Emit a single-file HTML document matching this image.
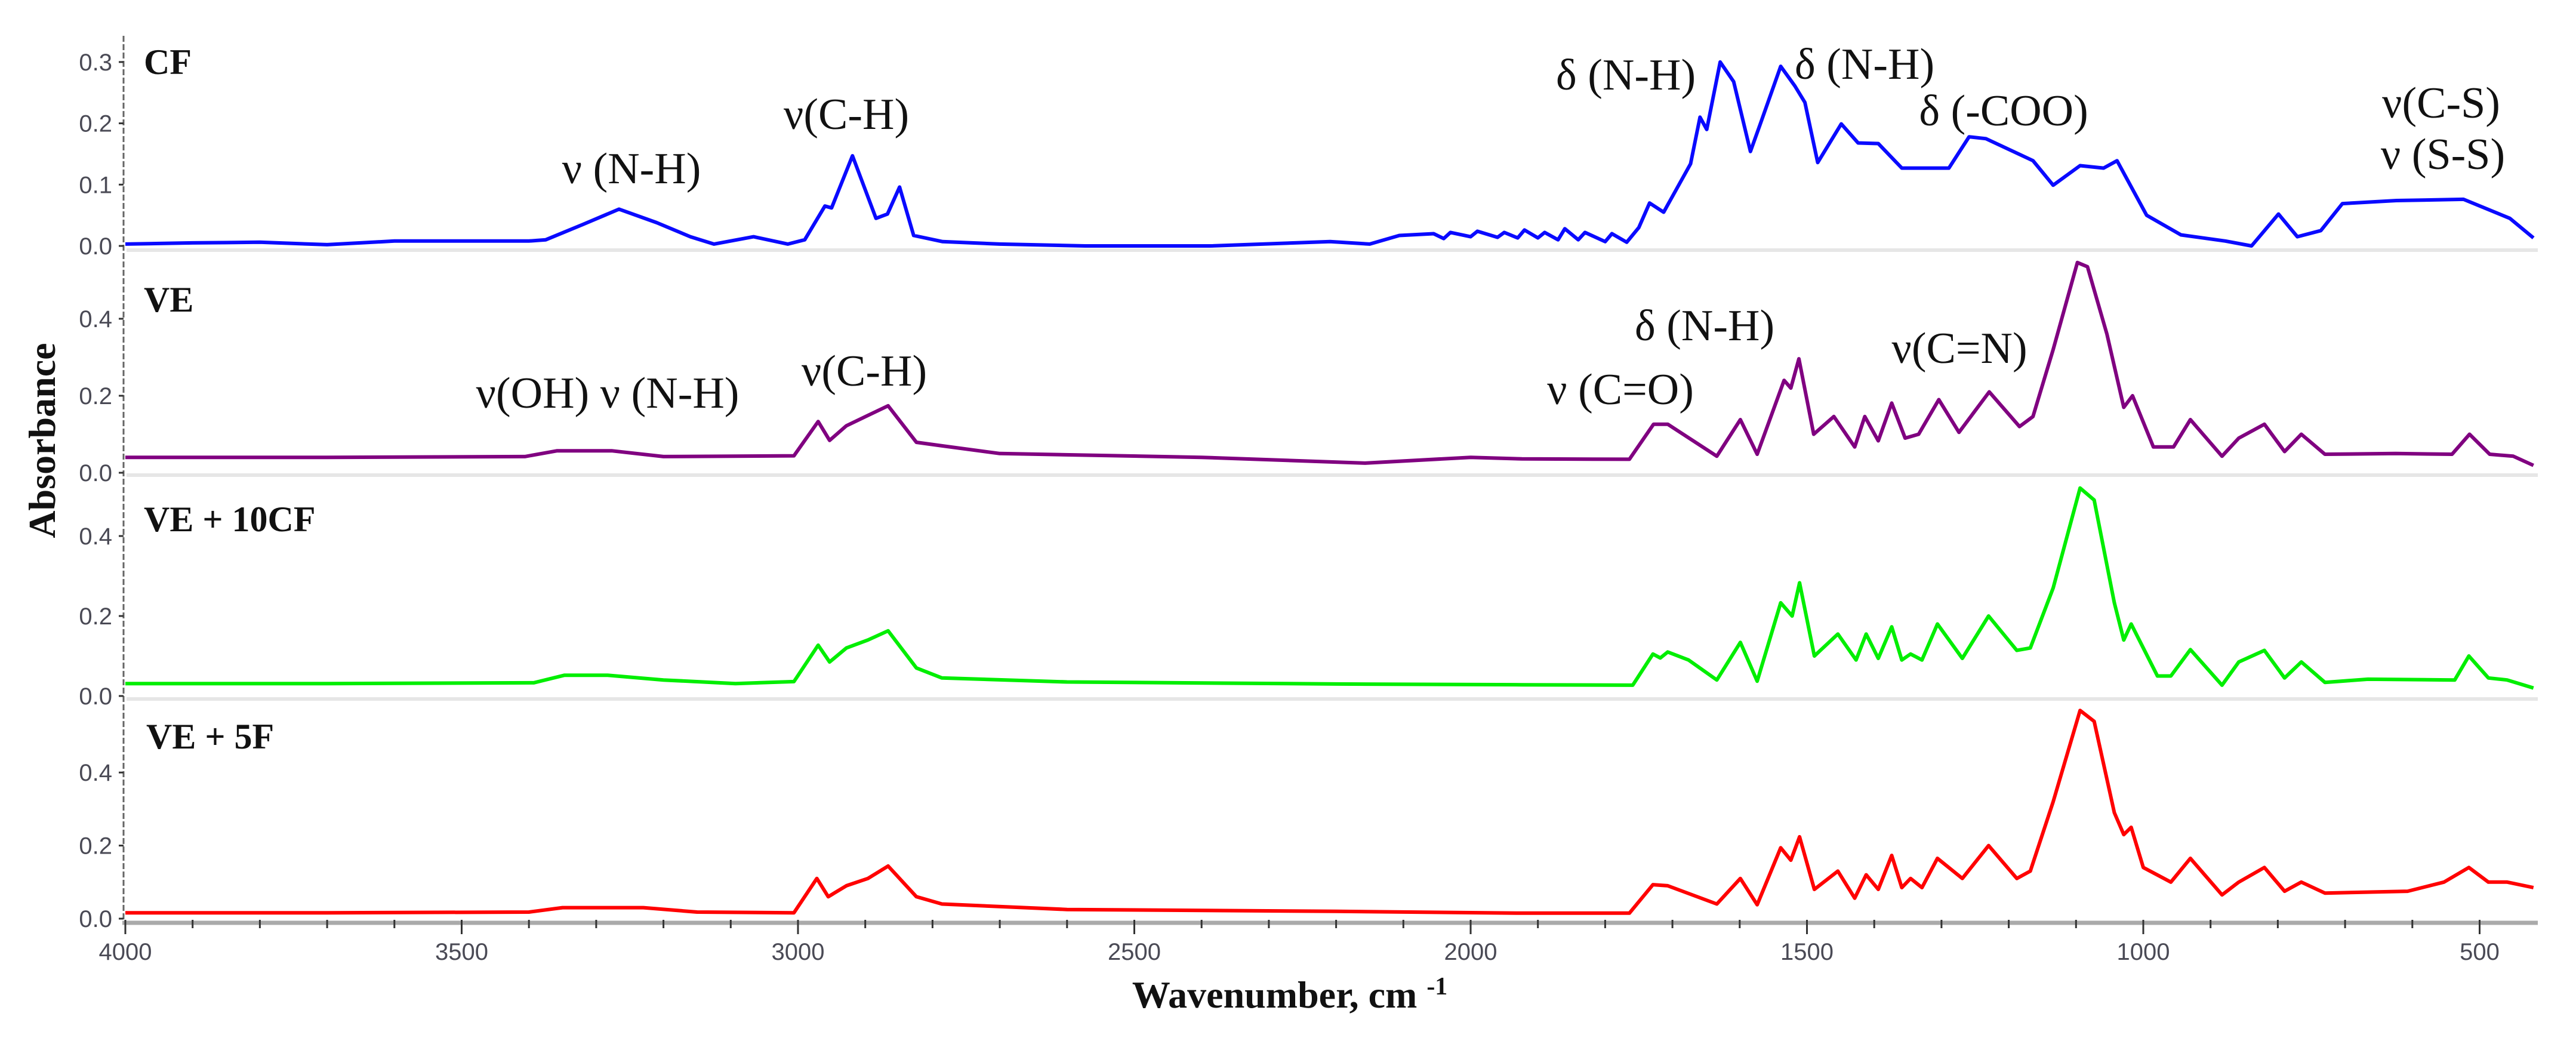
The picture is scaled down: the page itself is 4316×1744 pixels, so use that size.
<!DOCTYPE html>
<html><head><meta charset="utf-8"><title>FTIR spectra</title>
<style>
html,body{margin:0;padding:0;background:#fff;}
svg{display:block;}
.tick{font-family:"Liberation Sans Narrow","Liberation Sans",sans-serif;font-size:40px;fill:#4a4a55;}
.ann{font-family:"Liberation Serif","DejaVu Serif",serif;font-size:74px;fill:#111;}
.plab{font-family:"Liberation Serif",serif;font-weight:bold;font-size:60px;fill:#111;}
.atitle{font-family:"Liberation Serif",serif;font-weight:bold;font-size:64px;fill:#111;}
</style></head>
<body>
<svg id="chart" width="4316" height="1744" viewBox="0 0 4316 1744">
<g id="grid"></g><g id="series"></g><g id="axes"></g><g id="labels"></g>
</svg>
<script>
// ---- data ----
const xTicksMajor = [4000, 3500, 3000, 2500, 2000, 1500, 1000, 500];
const xTickLabels = ["4000", "3500", "3000", "2500", "2000", "1500", "1000", "500"];
const panelNames = ["CF", "VE", "VE + 10CF", "VE + 5F"];
const panelTicksCF = [0.0, 0.1, 0.2, 0.3];
const panelTicksOther = [0.0, 0.2, 0.4];

const cfW = [4000,3900,3800,3700,3600,3500,3400,3375,3320,3266,3210,3160,3125,3066,3015,2990,2960,2950,2919,2884,2867,2849,2828,2785,2700,2573,2387,2209,2150,2106,2055,2040,2030,2000,1990,1960,1950,1930,1920,1900,1890,1870,1860,1840,1830,1800,1790,1768,1750,1734,1713,1673,1659,1649,1629,1609,1584,1569,1539,1518,1503,1484,1449,1424,1394,1359,1289,1259,1234,1164,1134,1094,1059,1039,995,944,878,839,799,771,736,704,624,524,455,420];
const cfA  = [0.003,0.005,0.006,0.002,0.008,0.008,0.008,0.01,0.035,0.06,0.038,0.015,0.003,0.015,0.003,0.01,0.065,0.062,0.147,0.045,0.052,0.096,0.017,0.007,0.003,0.0,0.0,0.007,0.003,0.017,0.02,0.012,0.022,0.015,0.024,0.014,0.022,0.013,0.026,0.013,0.022,0.01,0.028,0.01,0.022,0.007,0.02,0.006,0.03,0.07,0.055,0.134,0.21,0.19,0.30,0.268,0.154,0.2,0.293,0.261,0.234,0.136,0.199,0.168,0.167,0.127,0.127,0.178,0.175,0.139,0.099,0.131,0.127,0.139,0.05,0.018,0.008,0.0,0.052,0.015,0.025,0.069,0.074,0.076,0.045,0.013];

const veW = [4000,3700,3406,3358,3277,3200,3006,2970,2953,2928,2896,2866,2824,2786,2700,2400,2157,2000,1924,1764,1728,1707,1634,1599,1574,1534,1524,1512,1490,1460,1429,1414,1394,1374,1354,1334,1304,1274,1229,1184,1164,1134,1098,1083,1054,1029,1016,985,955,930,883,858,820,790,765,730,625,541,515,485,450,420];
const veA  = [0.04,0.04,0.042,0.057,0.057,0.042,0.044,0.133,0.084,0.122,0.149,0.174,0.079,0.07,0.05,0.04,0.025,0.04,0.036,0.035,0.126,0.126,0.043,0.138,0.048,0.24,0.22,0.296,0.1,0.146,0.067,0.146,0.083,0.181,0.09,0.1,0.19,0.105,0.21,0.12,0.146,0.32,0.546,0.535,0.36,0.17,0.2,0.067,0.067,0.138,0.043,0.09,0.126,0.055,0.1,0.048,0.05,0.048,0.1,0.048,0.043,0.019];

const cfvW = [4000,3700,3393,3347,3283,3200,3093,3006,2970,2953,2928,2896,2866,2824,2786,2600,2200,1924,1759,1729,1718,1707,1676,1634,1599,1574,1539,1522,1511,1489,1454,1427,1412,1394,1374,1359,1346,1329,1306,1269,1230,1188,1168,1134,1094,1073,1043,1029,1018,979,959,930,883,858,820,790,765,730,666,537,516,487,459,420];
const cfvA = [0.031,0.031,0.033,0.052,0.052,0.04,0.031,0.036,0.127,0.085,0.12,0.14,0.163,0.07,0.045,0.035,0.03,0.028,0.027,0.105,0.095,0.11,0.09,0.04,0.134,0.037,0.233,0.2,0.283,0.1,0.155,0.09,0.155,0.094,0.173,0.09,0.105,0.09,0.18,0.094,0.2,0.114,0.12,0.27,0.52,0.49,0.233,0.14,0.18,0.05,0.05,0.116,0.027,0.085,0.114,0.045,0.085,0.034,0.042,0.04,0.1,0.045,0.04,0.02];

const fW = [4000,3700,3400,3350,3230,3150,3006,2972,2955,2928,2896,2866,2824,2786,2600,2200,1924,1764,1729,1707,1634,1599,1574,1539,1524,1511,1489,1454,1429,1412,1394,1374,1359,1346,1329,1306,1269,1230,1188,1168,1134,1094,1073,1043,1029,1018,1000,959,930,883,858,820,790,765,730,607,553,516,487,459,420];
const fA  = [0.016,0.016,0.018,0.03,0.03,0.018,0.016,0.11,0.06,0.09,0.11,0.144,0.06,0.04,0.025,0.02,0.015,0.015,0.093,0.09,0.04,0.11,0.038,0.194,0.16,0.224,0.08,0.13,0.056,0.12,0.08,0.173,0.085,0.11,0.085,0.165,0.11,0.2,0.11,0.13,0.32,0.57,0.54,0.29,0.23,0.25,0.14,0.1,0.165,0.065,0.1,0.14,0.075,0.1,0.07,0.075,0.1,0.14,0.1,0.1,0.085];

// ---- layout ----
const NS = "http://www.w3.org/2000/svg";
function mk(tag, attrs, parent){ const e=document.createElementNS(NS,tag); for(const k in attrs) e.setAttribute(k,attrs[k]); parent.appendChild(e); return e; }
function xScale(w){ return 210 + (4000 - w) * 1.127; }
const panels = [
  {y0:412, k:1027, ticks:panelTicksCF, W:cfW, A:cfA, color:"#0a0aff", lab:[241,124], name:"cf"},
  {y0:792, k:645, ticks:panelTicksOther, W:veW, A:veA, color:"#800080", lab:[241,522], name:"ve"},
  {y0:1166, k:670, ticks:panelTicksOther, W:cfvW, A:cfvA, color:"#00ee00", lab:[241,890], name:"ve-10cf"},
  {y0:1539, k:612, ticks:panelTicksOther, W:fW, A:fA, color:"#ff0000", lab:[245,1254], name:"ve-5f"}
];
function yScale(p, a){ return p.y0 - a * p.k; }

const grid=document.getElementById('grid'), ser=document.getElementById('series'), axes=document.getElementById('axes'), labs=document.getElementById('labels');

[419, 796, 1171].forEach(function(y){
  const l = mk('line',{x1:212,x2:4252,y1:y,y2:y,stroke:'#e6e6e6','stroke-width':6},grid);
  
  
});

const ya = mk('line',{x1:207,x2:207,y1:60,y2:1545,stroke:'#666','stroke-width':3,'stroke-dasharray':'10 4'},axes);


const xa = mk('line',{x1:205,x2:4252,y1:1546,y2:1546,stroke:'#aaa','stroke-width':7},axes);


for(let w=4000; w>=420; w-=100){
  const major = (w % 500 === 0);
  const t = mk('line',{x1:xScale(w),x2:xScale(w),y1:1541,y2:major?1565:1555,stroke:'#333','stroke-width':3},axes);
  
  
}
xTicksMajor.forEach(function(w,i){
  const t = mk('text',{x:xScale(w),y:1608,'text-anchor':'middle',class:'tick'},axes);
  t.textContent = xTickLabels[i];
  
  
});

panels.forEach(function(p, pi){
  p.ticks.forEach(function(v){
    const y = yScale(p, v);
    const tk = mk('line',{x1:199,x2:207,y1:y,y2:y,stroke:'#333','stroke-width':3},axes);
    
    
    const tl = mk('text',{x:188,y:y+14,'text-anchor':'end',class:'tick'},axes);
    tl.textContent = v.toFixed(1);
    
    
  });
  const pts = p.W.map(function(w,i){ return xScale(w).toFixed(1)+','+yScale(p,p.A[i]).toFixed(1); }).join(' ');
  const pl = mk('polyline',{points:pts,fill:'none',stroke:p.color,'stroke-width':6,'stroke-linejoin':'round'},ser);
  
  
  const lt = mk('text',{x:p.lab[0],y:p.lab[1],class:'plab'},labs);
  lt.textContent = panelNames[pi];
  
  
});
</script>
<script>
const annG = document.getElementById('labels');
const annotations = [
  ["ν (N-H)",1058,307],["ν(C-H)",1418,216],["δ (N-H)",2724,150],["δ (N-H)",3124,132],["δ (-COO)",3357,210],
  ["ν(C-S)",4090,197],["ν (S-S)",4093,283],
  ["ν(OH) ν (N-H)",1018,683],["ν(C-H)",1448,646],["ν (C=O)",2715,677],["δ (N-H)",2856,570],["ν(C=N)",3283,608]
];
annotations.forEach(function(a){
  const t = document.createElementNS("http://www.w3.org/2000/svg","text");
  t.setAttribute('x',a[1]); t.setAttribute('y',a[2]); t.setAttribute('text-anchor','middle'); t.setAttribute('class','ann');
  t.textContent = a[0];
  
  
  annG.appendChild(t);
});
const yt = document.createElementNS("http://www.w3.org/2000/svg","text");
yt.setAttribute('x',0); yt.setAttribute('y',0); yt.setAttribute('text-anchor','middle'); yt.setAttribute('class','atitle');
yt.setAttribute('transform','translate(92,738) rotate(-90)');
yt.setAttribute('font-size','74');
yt.textContent = 'Absorbance';


annG.appendChild(yt);
const xt = document.createElementNS("http://www.w3.org/2000/svg","text");
xt.setAttribute('x',2161); xt.setAttribute('y',1688); xt.setAttribute('text-anchor','middle'); xt.setAttribute('class','atitle');
xt.innerHTML = 'Wavenumber, cm <tspan dy="-22" font-size="42">-1</tspan>';


annG.appendChild(xt);
</script>
</body></html>
